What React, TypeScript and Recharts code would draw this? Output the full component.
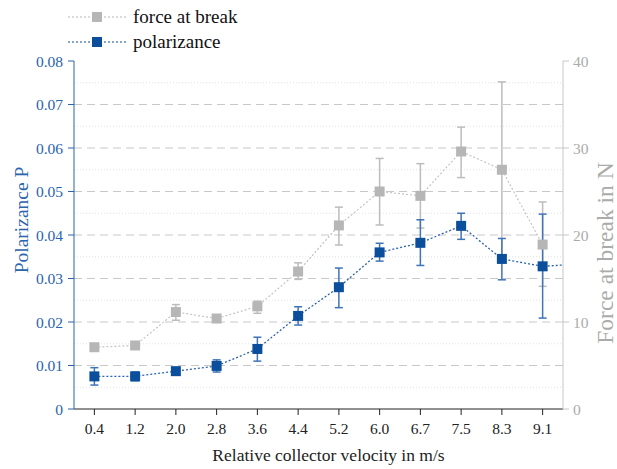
import React from "react";
import {
  ComposedChart,
  Line,
  ErrorBar,
  XAxis,
  YAxis,
  ReferenceLine,
} from "recharts";

const velocities = ["0.4", "1.2", "2.0", "2.8", "3.6", "4.4", "5.2", "6.0", "6.7", "7.5", "8.3", "9.1"];

const polarizance = [0.0075, 0.0075, 0.0087, 0.0099, 0.0138, 0.0214, 0.028, 0.036, 0.0382, 0.0421, 0.0345, 0.0328];
const polLow = [0.0055, 0.0065, 0.0083, 0.0085, 0.011, 0.0193, 0.0233, 0.034, 0.033, 0.039, 0.0297, 0.0209];
const polHigh = [0.0095, 0.0085, 0.0091, 0.0113, 0.0165, 0.0235, 0.0324, 0.0381, 0.0435, 0.045, 0.0392, 0.0448];

const force = [7.1, 7.3, 11.15, 10.4, 11.8, 15.8, 21.1, 25.0, 24.5, 29.6, 27.5, 18.9];
const forceLow = [6.8, 7.0, 10.2, 10.1, 11.0, 14.9, 18.85, 21.15, 20.8, 26.6, 17.5, 14.1];
const forceHigh = [7.4, 7.6, 12.0, 10.7, 12.4, 16.8, 23.2, 28.8, 28.2, 32.4, 37.6, 23.8];

// dotted polarizance line runs on past the last point to the axis edge
const polTail = 0.0331;

const leftTicks = [0, 0.01, 0.02, 0.03, 0.04, 0.05, 0.06, 0.07, 0.08];
const rightTicks = [0, 10, 20, 30, 40];
const majorGrid = [0.01, 0.02, 0.03, 0.04, 0.05, 0.06, 0.07];
const minorGrid = [0.005, 0.015, 0.025, 0.035, 0.045, 0.055, 0.065, 0.075];

const BLUE = "#0b4f9c";
const BLUE_AXIS = "#2a64ac";
const BLUE_ERR = "#3f74b8";
const GREY = "#b6b6b6";
const GREY_AXIS = "#c6c6c6";
const GREY_TEXT = "#ababab";
const GRID = "#c8c8c8";
const FONT = "Liberation Serif";

const data = [
  ...velocities.map((v, i) => ({
    idx: i,
    pol: polarizance[i],
    polErr: [polarizance[i] - polLow[i], polHigh[i] - polarizance[i]],
    force: force[i],
    forceErr: [force[i] - forceLow[i], forceHigh[i] - force[i]],
  })),
  { idx: velocities.length - 0.5, pol: polTail, tail: true },
];

const square = (fill: string) => (props: any) => {
  const { cx, cy, payload, index } = props;
  if (payload?.tail || cx == null || cy == null) return <g key={index} />;
  return <rect key={index} x={cx - 5} y={cy - 5} width={10} height={10} fill={fill} />;
};

function LegendRow({ color, label }: { color: string; label: string }) {
  return (
    <g>
      <line x1={0} y1={0} x2={58} y2={0} stroke={color} strokeDasharray="2 2" strokeWidth={1.2} />
      <rect x={24} y={-5} width={10} height={10} fill={color} />
      <text x={65} y={6} fontSize={19} fill="#111" fontFamily={FONT}>
        {label}
      </text>
    </g>
  );
}

export default function App() {
  return (
    <div style={{ position: "absolute", left: 0, top: 0, width: 617, height: 469 }}>
      <style>{`svg text, svg tspan { font-family: "Liberation Serif", "Times New Roman", serif !important; }`}</style>
      <svg width={617} height={60} style={{ position: "absolute", left: 0, top: 0 }}>
        <g transform="translate(68,17)">
          <LegendRow color={GREY} label="force at break" />
        </g>
        <g transform="translate(68,42)">
          <LegendRow color={BLUE} label="polarizance" />
        </g>
      </svg>
      <ComposedChart
        width={617}
        height={469}
        data={data}
        margin={{ top: 61, right: 0, bottom: 0, left: 0 }}
      >
        <XAxis
          dataKey="idx"
          type="number"
          domain={[-0.5, velocities.length - 0.5]}
          ticks={velocities.map((_, i) => i)}
          tickFormatter={(i: number) => velocities[i] ?? ""}
          allowDataOverflow
          height={60}
          stroke="#222"
          tickSize={6}
          tickMargin={8}
          tick={{ fill: "#222", fontSize: 15.5, fontFamily: FONT }}
          label={{
            content: ({ viewBox }: any) => (
              <text
                x={viewBox.x + viewBox.width / 2 + 10}
                y={viewBox.y + 52}
                textAnchor="middle"
                fontSize={17.5}
                fill="#222"
                fontFamily={FONT}
              >
                Relative collector velocity in m/s
              </text>
            ),
          }}
        />
        <YAxis
          yAxisId="left"
          orientation="left"
          width={74}
          domain={[0, 0.08]}
          ticks={leftTicks}
          tickFormatter={(v: number) => (v === 0 ? "0" : v.toFixed(2))}
          stroke={BLUE_AXIS}
          tickSize={6}
          tickMargin={5}
          tick={{ fill: BLUE_AXIS, fontSize: 15.5, fontFamily: FONT }}
          label={{
            content: ({ viewBox }: any) => (
              <text
                transform={`translate(28, ${viewBox.y + viewBox.height / 2 - 15}) rotate(-90)`}
                textAnchor="middle"
                fontSize={19.5}
                fill={BLUE_AXIS}
                fontFamily={FONT}
              >
                Polarizance P
              </text>
            ),
          }}
        />
        <YAxis
          yAxisId="right"
          orientation="right"
          width={54}
          domain={[0, 40]}
          ticks={rightTicks}
          stroke={GREY_AXIS}
          tickSize={6}
          tickMargin={4}
          tick={{ fill: GREY_TEXT, fontSize: 15.5, fontFamily: FONT }}
          label={{
            content: ({ viewBox }: any) => (
              <text
                transform={`translate(613, ${viewBox.y + viewBox.height / 2 + 18}) rotate(-90)`}
                textAnchor="middle"
                fontSize={23.5}
                fill={GREY_TEXT}
                fontFamily={FONT}
              >
                Force at break in N
              </text>
            ),
          }}
        />
        {minorGrid.map((v) => (
          <ReferenceLine key={`mi${v}`} yAxisId="left" y={v} stroke="#e2e2e2" strokeDasharray="1 2" />
        ))}
        {majorGrid.map((v) => (
          <ReferenceLine key={`ma${v}`} yAxisId="left" y={v} stroke={GRID} strokeDasharray="8 5" />
        ))}
        <Line
          yAxisId="right"
          dataKey="force"
          stroke="#c4c4c4"
          strokeWidth={1.2}
          strokeDasharray="2 2"
          dot={square(GREY)}
          activeDot={false}
          isAnimationActive={false}
        >
          <ErrorBar dataKey="forceErr" direction="y" width={4} stroke="#bcbcbc" strokeWidth={1.5} />
        </Line>
        <Line
          yAxisId="left"
          dataKey="pol"
          stroke={BLUE_AXIS}
          strokeWidth={1.3}
          strokeDasharray="2 2"
          dot={square(BLUE)}
          activeDot={false}
          isAnimationActive={false}
        >
          <ErrorBar dataKey="polErr" direction="y" width={4} stroke={BLUE_ERR} strokeWidth={1.5} />
        </Line>
      </ComposedChart>
    </div>
  );
}
